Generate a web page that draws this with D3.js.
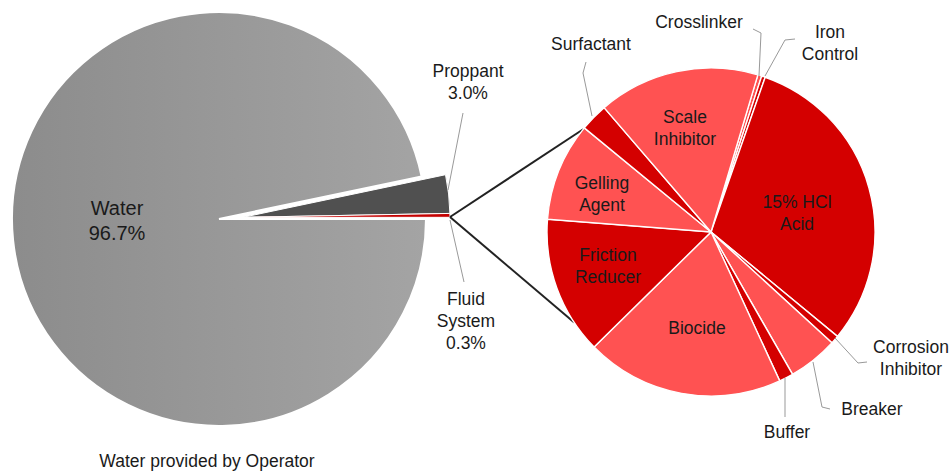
<!DOCTYPE html>
<html>
<head>
<meta charset="utf-8">
<script src="https://cdn.jsdelivr.net/npm/d3@7"></script>
<style>
  body { margin: 0; background: #fff; }
  text { font-family: "Liberation Sans", Arial, sans-serif; fill: #1a1a1a; }
</style>
</head>
<body>
<div id="chart"></div>
<script>
// data (percent)
var mainLabels = ["Water", "Proppant", "Fluid System"];
var mainValues = [96.7, 3.0, 0.3];

var fluidLabels = ["Crosslinker", "Iron Control", "15% HCl Acid", "Corrosion Inhibitor",
                   "Breaker", "Buffer", "Biocide", "Friction Reducer", "Gelling Agent",
                   "Surfactant", "Scale Inhibitor"];
var fluidValues = [0.39, 0.36, 30.6, 0.83, 4.9, 1.4, 19.5, 13.6, 9.7, 2.75, 15.9];

var width = 951, height = 472;
var deg = Math.PI / 180;

var svg = d3.select("#chart")
  .append("svg")
    .attr("width", width)
    .attr("height", height);

var defs = svg.append("defs");
var grad = defs.append("linearGradient")
    .attr("id", "waterGrad")
    .attr("x1", "0%").attr("x2", "100%").attr("y1", "0%").attr("y2", "0%");
grad.append("stop").attr("offset", "0%").attr("stop-color", "#8c8c8c");
grad.append("stop").attr("offset", "100%").attr("stop-color", "#a4a4a4");

// ---- left pie
var lc = {x: 219, y: 219}, lr = 207, explode = 24;
var mainPie = d3.pie().sort(null).startAngle(90 * deg).endAngle(450 * deg);
var mainArcs = mainPie(mainValues);
var mainArc = d3.arc().innerRadius(0).outerRadius(lr);
var mainColors = ["url(#waterGrad)", "#505050", "#c40000"];

var left = svg.append("g")
    .attr("transform", "translate(" + lc.x + "," + lc.y + ")");

left.selectAll("path")
  .data(mainArcs)
  .enter()
  .append("path")
    .attr("d", mainArc)
    .attr("fill", function (d, i) { return mainColors[i]; })
    .attr("stroke", "#fff")
    .attr("stroke-width", function (d, i) { return i == 0 ? 2 : 1; })
    .attr("transform", function (d, i) {
      if (i == 0) return null;
      var a = 86 * deg;
      return "translate(" + (Math.sin(a) * explode) + "," + (-Math.cos(a) * explode) + ")";
    });

// ---- right pie
var rc = {x: 711, y: 232}, rr = 164;
var fluidPie = d3.pie().sort(null).startAngle(16.6 * deg).endAngle(376.6 * deg);
var fluidArcs = fluidPie(fluidValues);
var fluidArc = d3.arc().innerRadius(0).outerRadius(rr);
var fluidColors = ["#ff5252", "#d40000", "#d40000", "#d40000", "#ff5252", "#d40000",
                   "#ff5252", "#d40000", "#ff5252", "#d40000", "#ff5252"];

// connector lines from fluid wedge to the right pie
var tip = {x: 450, y: 217};
[308.8, 236.5].forEach(function (a) {
  svg.append("line")
    .attr("x1", tip.x).attr("y1", tip.y)
    .attr("x2", rc.x + Math.sin(a * deg) * rr)
    .attr("y2", rc.y - Math.cos(a * deg) * rr)
    .attr("stroke", "#222")
    .attr("stroke-width", 2);
});

var right = svg.append("g")
    .attr("transform", "translate(" + rc.x + "," + rc.y + ")");

right.selectAll("path")
  .data(fluidArcs)
  .enter()
  .append("path")
    .attr("d", fluidArc)
    .attr("fill", function (d, i) { return fluidColors[i]; })
    .attr("stroke", "#fff")
    .attr("stroke-width", 1.4);

// ---- labels
function label(x, y, lines, size) {
  var t = svg.append("text")
    .attr("x", x).attr("y", y)
    .attr("text-anchor", "middle")
    .style("font-size", (size || 17.5) + "px");
  lines.forEach(function (s, i) {
    t.append("tspan").attr("x", x).attr("dy", i == 0 ? 0 : "1.27em").text(s);
  });
}

function leader(points) {
  svg.append("path")
    .attr("d", d3.line()(points))
    .attr("fill", "none")
    .attr("stroke", "#999")
    .attr("stroke-width", 1);
}

label(117, 215, ["Water", mainValues[0].toFixed(1) + "%"], 20);
label(468, 77, ["Proppant", mainValues[1].toFixed(1) + "%"]);
label(466, 305, ["Fluid", "System", mainValues[2].toFixed(1) + "%"]);
label(207, 467, ["Water provided by Operator"]);
leader([[448, 190], [463, 113]]);
leader([[450, 220], [464, 282]]);

label(685, 123, ["Scale", "Inhibitor"]);
label(602, 189, ["Gelling", "Agent"]);
label(608, 261, ["Friction", "Reducer"]);
label(697, 334, ["Biocide"]);
label(797, 208, ["15% HCl", "Acid"]);

label(591, 50, ["Surfactant"]);
label(699, 28, ["Crosslinker"]);
label(830, 38, ["Iron", "Control"]);
label(911, 353, ["Corrosion", "Inhibitor"]);
label(872, 415, ["Breaker"]);
label(787, 438, ["Buffer"]);

leader([[592, 116], [583, 73], [586, 62]]);
leader([[759, 76], [761, 33], [753, 29]]);
leader([[765, 76], [785, 40], [795, 39]]);
leader([[835, 338], [858, 363], [867, 362]]);
leader([[813, 362], [822, 407], [830, 409]]);
leader([[785, 378], [785, 417]]);
</script>
</body>
</html>
